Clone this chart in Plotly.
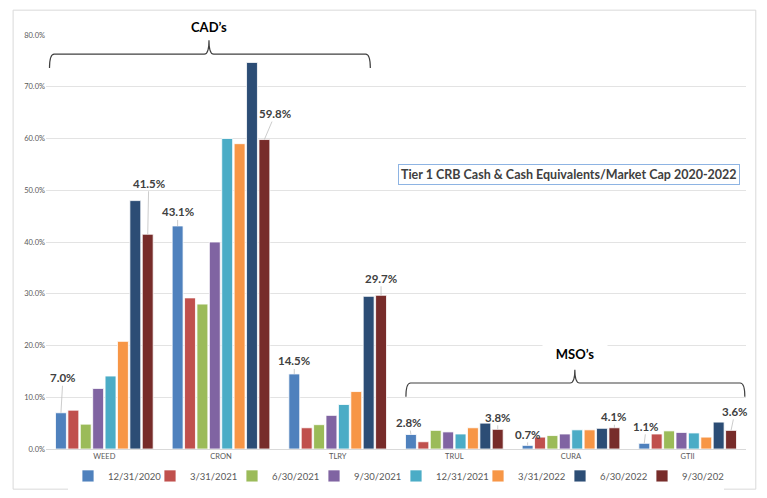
import plotly.graph_objects as go

tickers = ["WEED", "CRON", "TLRY", "TRUL", "CURA", "GTII"]
quarters = ["12/31/2020", "3/31/2021", "6/30/2021", "9/30/2021",
            "12/31/2021", "3/31/2022", "6/30/2022", "9/30/2022"]
colors = ["#4F81BD", "#C0504D", "#9BBB59", "#8064A2",
          "#4BACC6", "#F79646", "#2C4D75", "#772C2A"]

# % of market cap, one list per quarter, in ticker order
q_12_31_2020 = [7.0, 43.1, 14.5, 2.8, 0.7, 1.1]
q_3_31_2021 = [7.5, 29.2, 4.1, 1.4, 2.3, 2.9]
q_6_30_2021 = [4.8, 28.0, 4.7, 3.6, 2.6, 3.5]
q_9_30_2021 = [11.7, 40.0, 6.5, 3.3, 2.9, 3.2]
q_12_31_2021 = [14.1, 60.0, 8.6, 2.9, 3.7, 3.1]
q_3_31_2022 = [20.8, 59.0, 11.1, 4.1, 3.7, 2.3]
q_6_30_2022 = [48.0, 74.7, 29.5, 5.0, 4.0, 5.2]
q_9_30_2022 = [41.5, 59.8, 29.7, 3.8, 4.1, 3.6]
series = [q_12_31_2020, q_3_31_2021, q_6_30_2021, q_9_30_2021,
          q_12_31_2021, q_3_31_2022, q_6_30_2022, q_9_30_2022]

# which bars get a data label: (quarter idx, ticker idx, dx px, dy px)
labelled = [(0, 0, 2, -35), (7, 0, 1, -51), (0, 1, 0, -14), (7, 1, 11, -26),
            (0, 2, 0, -13), (7, 2, 0, -17), (0, 3, -2, -12), (7, 3, 0, -12),
            (0, 4, 0, -11), (7, 4, 0, -11), (0, 5, 2, -17), (7, 5, 4, -19)]

bargap = 0.15
slot = (1 - bargap) / len(series)
xs = list(range(len(tickers)))

fig = go.Figure()
for name, vals, c in zip(quarters, series, colors):
    fig.add_trace(go.Bar(x=xs, y=vals, name=name, marker_color=c,
                         marker_line_color="white", marker_line_width=0.8))

annots = []
for k, i, dx, dy in labelled:
    v = series[k][i]
    annots.append(dict(x=i + (k - 3.5) * slot, y=v, xref="x", yref="y",
                       text="%.1f%%" % v, showarrow=True, arrowhead=0,
                       arrowwidth=0.8, arrowcolor="#BFBFBF", ax=dx, ay=dy,
                       standoff=0, font=dict(family="Lato", size=11.5, color="#404040",
                                             weight="bold")))

def brace(x0, x1, xm, ybar, yend, ytip, r=0.04):
    return ("M %f,%f Q %f,%f %f,%f L %f,%f Q %f,%f %f,%f Q %f,%f %f,%f L %f,%f Q %f,%f %f,%f"
            % (x0, yend, x0, ybar, x0 + r, ybar, xm - r, ybar, xm, ybar, xm, ytip,
               xm, ybar, xm + r, ybar, x1 - r, ybar, x1, ybar, x1, yend))

shapes = [
    dict(type="path", xref="x", yref="y", path=brace(-0.47, 2.28, 0.897, 76.3, 73.6, 79.0),
         line=dict(color="#404040", width=1.2)),
    dict(type="path", xref="x", yref="y", path=brace(2.585, 5.49, 4.033, 12.75, 10.1, 15.3),
         line=dict(color="#404040", width=1.2)),
    dict(type="rect", xref="paper", yref="paper", x0=-0.047, x1=1.014, y0=-0.097, y1=1.06,
         line=dict(color="#D9D9D9", width=1), layer="below"),
]

annots.append(dict(x=0.897, y=1.019, xref="x", yref="paper", yanchor="middle",
                   text="CAD’s", showarrow=False,
                   font=dict(family="Lato", size=13, color="#000000", weight="bold")))
annots.append(dict(x=4.033, y=18.4, xref="x", yref="y", yanchor="middle",
                   text="MSO’s", showarrow=False, bgcolor="white", width=60, borderpad=2,
                   font=dict(family="Lato", size=13, color="#000000", weight="bold")))
annots.append(dict(x=0.747, y=0.664, xref="paper", yref="paper",
                   xanchor="center", yanchor="middle",
                   text="Tier 1 CRB Cash & Cash Equivalents/Market Cap 2020-2022",
                   showarrow=False, bgcolor="white", bordercolor="#8EB4E3", borderwidth=1,
                   borderpad=2, font=dict(family="Lato", size=12.5, color="#404040", weight="bold")))

# page body has an 8px margin, so the figure is sized to fit inside it
fig.update_layout(
    width=759, height=490,
    margin=dict(l=38, r=21, t=27, b=49, autoexpand=False),
    paper_bgcolor="white", plot_bgcolor="white",
    barmode="group", bargap=bargap, bargroupgap=0.12,
    font=dict(family="Lato", color="#595959"),
    xaxis=dict(tickvals=xs, ticktext=tickers, range=[-0.5, 5.5], showgrid=False,
               tickfont=dict(size=7.5, color="#595959"), ticks="", zeroline=False,
               showline=True, linecolor="#D9D9D9", automargin=False),
    yaxis=dict(range=[0, 80], dtick=10, ticksuffix="%", tickformat=".1f",
               tickfont=dict(size=7.5, color="#595959"), gridcolor="#E3E3E3",
               zeroline=False, automargin=False),
    legend=dict(orientation="h", x=0.5, xanchor="center", y=-0.03, yanchor="top",
                font=dict(size=9.5, color="#595959"),
                itemwidth=30, entrywidth=37, tracegroupgap=0),
    annotations=annots, shapes=shapes,
)

fig.write_html("out.html")
